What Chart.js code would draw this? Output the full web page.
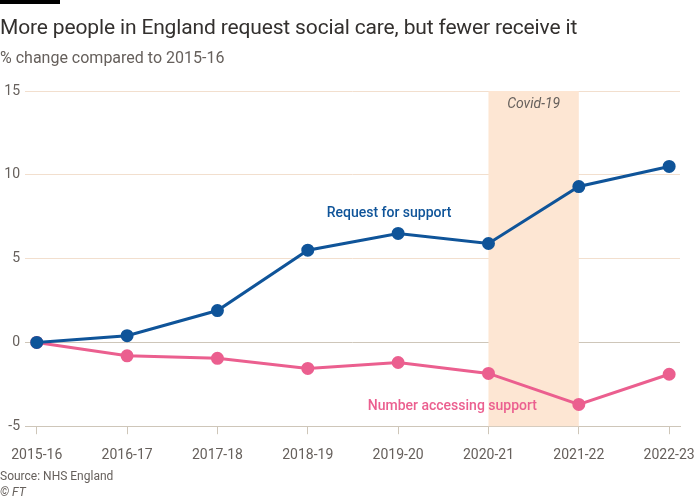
<!DOCTYPE html>
<html>
<head>
<meta charset="utf-8">
<script src="https://cdn.jsdelivr.net/npm/chart.js@4"></script>
<style>
  body { margin: 0; background: #fff; font-family: Roboto, sans-serif; }
  #wrap { position: relative; width: 700px; height: 500px; }
  #bar { position: absolute; left: 0; top: 0; width: 60px; height: 4px; background: #000; }
  #title { position: absolute; left: 0; top: 15px; font-size: 21px; color: #33302e; white-space: nowrap; letter-spacing: -0.15px; }
  #sub { position: absolute; left: 0; top: 48px; font-size: 16px; color: #66605c; }
  #source { position: absolute; left: 0; top: 469px; font-size: 12px; color: #66605c; }
  #ft { position: absolute; left: 0; top: 485px; font-size: 12px; color: #66605c; font-style: italic; }
  canvas { position: absolute; left: 0; top: 0; }
</style>
</head>
<body>
<div id="wrap">
  <canvas id="grafico" width="700" height="500"></canvas>
  <div id="bar"></div>
  <div id="title">More people in England request social care, but fewer receive it</div>
  <div id="sub">% change compared to 2015-16</div>
  <div id="source">Source: NHS England</div>
  <div id="ft">© FT</div>
</div>
<script>
const anos = ['2015-16', '2016-17', '2017-18', '2018-19', '2019-20', '2020-21', '2021-22', '2022-23'];
const pedidos = [0, 0.4, 1.9, 5.5, 6.5, 5.9, 9.3, 10.5];
const acessos = [0, -0.8, -0.95, -1.55, -1.2, -1.85, -3.7, -1.9];
const yTicks = [-5, 0, 5, 10, 15];

const azul = '#0f5499';
const rosa = '#eb5f8f';

// Faixa da Covid e rótulos das séries
const anotacoes = {
    id: 'anotacoes',
    beforeDatasetsDraw(chart) {
        const { ctx, chartArea, scales } = chart;
        const x0 = scales.x.getPixelForValue(5);
        const x1 = scales.x.getPixelForValue(6);
        ctx.save();
        ctx.fillStyle = '#fde6d3';
        ctx.fillRect(x0, chartArea.top, x1 - x0, chartArea.bottom - chartArea.top);
        ctx.fillStyle = '#66605c';
        ctx.font = 'italic 14px Roboto';
        ctx.textAlign = 'center';
        ctx.textBaseline = 'middle';
        ctx.fillText('Covid-19', (x0 + x1) / 2, scales.y.getPixelForValue(14.2));
        ctx.restore();
    },
    afterDatasetsDraw(chart) {
        const { ctx, scales } = chart;
        ctx.save();
        ctx.font = '500 14px Roboto';
        ctx.textAlign = 'center';
        ctx.textBaseline = 'middle';
        ctx.fillStyle = azul;
        ctx.fillText('Request for support', scales.x.getPixelForValue(3.9), scales.y.getPixelForValue(7.7));
        ctx.fillStyle = rosa;
        ctx.fillText('Number accessing support', scales.x.getPixelForValue(4.6), scales.y.getPixelForValue(-3.8));
        ctx.restore();
    }
};

const ctx = document.getElementById('grafico').getContext('2d');
new Chart(ctx, {
    type: 'line',
    data: {
        datasets: [
            {
                label: 'Request for support',
                data: pedidos.map((v, i) => ({ x: i, y: v })),
                borderColor: azul,
                backgroundColor: azul,
                borderWidth: 3,
                pointRadius: 5,
                tension: 0
            },
            {
                label: 'Number accessing support',
                data: acessos.map((v, i) => ({ x: i, y: v })),
                borderColor: rosa,
                backgroundColor: rosa,
                borderWidth: 3,
                pointRadius: 5,
                tension: 0
            }
        ]
    },
    options: {
        responsive: false,
        animation: false,
        layout: { padding: { top: 91, right: 20, bottom: 23, left: 0 } },
        plugins: { legend: { display: false }, tooltip: { enabled: false } },
        scales: {
            x: {
                type: 'linear',
                min: -0.13,
                max: 7.12,
                afterBuildTicks: scale => { scale.ticks = anos.map((a, i) => ({ value: i })); },
                afterFit: scale => { scale.paddingLeft = 0; scale.paddingRight = 0; },
                ticks: {
                    callback: v => anos[v],
                    color: '#66605c',
                    font: { size: 14, family: 'Roboto' },
                    padding: 13,
                    maxRotation: 0,
                    autoSkip: false
                },
                grid: { drawOnChartArea: false, drawTicks: true, tickLength: 8, color: '#cec6b9' },
                border: { display: true, color: '#cec6b9' }
            },
            y: {
                min: -5,
                max: 15,
                afterBuildTicks: scale => { scale.ticks = yTicks.map(v => ({ value: v })); },
                afterFit: scale => { scale.width = 25; },
                ticks: {
                    color: '#66605c',
                    font: { size: 14, family: 'Roboto' },
                    padding: 5
                },
                grid: {
                    drawTicks: false,
                    color: c => (c.tick && c.tick.value === 0) ? '#cec6b9' : '#f2dfce'
                },
                border: { display: false }
            }
        }
    },
    plugins: [anotacoes]
});
</script>
</body>
</html>
